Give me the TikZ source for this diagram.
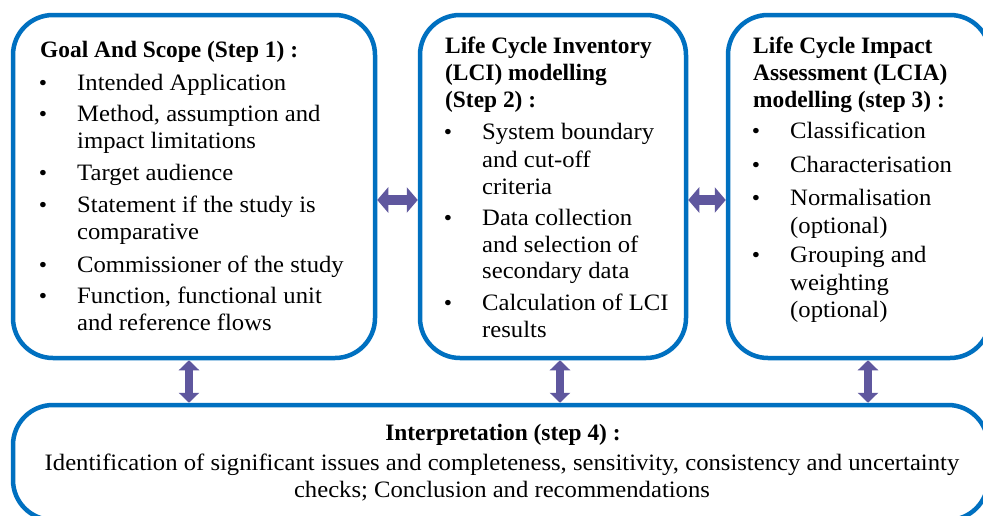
\documentclass[tikz,border=0pt]{standalone}
\usepackage{fontspec}
\setmainfont{Liberation Serif}[FakeStretch=1.05, BoldFeatures={FakeStretch=0.995}]
\usetikzlibrary{arrows.meta}
\definecolor{boxblue}{HTML}{0070C0}
\definecolor{arrpurple}{HTML}{5F579E}
\tikzset{
  stepbox/.style={draw=boxblue, line width=4.5pt, rounded corners=40pt, inner sep=0pt, minimum height=343pt},
  txt/.style={anchor=base west, inner sep=0pt, font=\fontsize{23.5}{28}\selectfont},
  ttl/.style={txt, font=\fontsize{23.5}{28}\selectfont\bfseries},
  bul/.style={anchor=base, inner sep=0pt, font=\fontsize{22.5}{27}\selectfont},
  ctxt/.style={anchor=base, inner sep=0pt, font=\fontsize{23.5}{28}\selectfont},
  hlink/.style={draw=arrpurple, line width=10pt, {Triangle[width=25pt,length=11pt]}-{Triangle[width=25pt,length=11pt]}},
  vlink/.style={draw=arrpurple, line width=8pt, {Triangle[width=20pt,length=10pt]}-{Triangle[width=20pt,length=10pt]}}
}
\begin{document}
\begin{tikzpicture}[x=1pt,y=-1pt]
\useasboundingbox (0,0) rectangle (983,515);
\clip (0,0) rectangle (983,515);
\fill[white] (0,0) rectangle (983,515);
% boxes
\node[stepbox, minimum width=362pt] (b1) at (194,186.5) {};
\node[stepbox, minimum width=266pt] (b2) at (553,186.5) {};
\node[stepbox, minimum width=262pt] (b3) at (859,186.5) {};
\node[stepbox, minimum width=975pt, minimum height=115pt] (b4) at (500.5,462.5) {};
% box 1 text
\node[ttl] (t1) at (40,57) {Goal And Scope (Step 1) :};
\node[bul] (u11) at (43,90) {•};  \node[txt] (a11) at (77,90) {Intended Application};
\node[bul] (u12) at (43,121) {•}; \node[txt] (a12) at (77,121) {Method, assumption and};
\node[txt] (a12b) at (77,148) {impact limitations};
\node[bul] (u13) at (43,180) {•}; \node[txt] (a13) at (77,180) {Target audience};
\node[bul] (u14) at (43,212) {•}; \node[txt] (a14) at (77,212) {Statement if the study is};
\node[txt] (a14b) at (77,239) {comparative};
\node[bul] (u15) at (43,272) {•}; \node[txt] (a15) at (77,272) {Commissioner of the study};
\node[bul] (u16) at (43,303) {•}; \node[txt] (a16) at (77,303) {Function, functional unit};
\node[txt] (a16b) at (77,330) {and reference flows};
% box 2 text
\node[ttl] (t2a) at (445,53) {Life Cycle Inventory};
\node[ttl] (t2b) at (445,80) {(LCI) modelling};
\node[ttl] (t2c) at (445,107) {(Step 2) :};
\node[bul] (u21) at (448,139) {•}; \node[txt] (a21) at (482,139) {System boundary};
\node[txt] (a21b) at (482,167) {and cut-off};
\node[txt] (a21c) at (482,194) {criteria};
\node[bul] (u22) at (448,225) {•}; \node[txt] (a22) at (482,225) {Data collection};
\node[txt] (a22b) at (482,252) {and selection of};
\node[txt] (a22c) at (482,278) {secondary data};
\node[bul] (u23) at (448,310) {•}; \node[txt] (a23) at (482,310) {Calculation of LCI};
\node[txt] (a23b) at (482,337) {results};
% box 3 text
\node[ttl] (t3a) at (753,53) {Life Cycle Impact};
\node[ttl] (t3b) at (753,80) {Assessment (LCIA)};
\node[ttl] (t3c) at (753,107) {modelling (step 3) :};
\node[bul] (u31) at (756,138) {•}; \node[txt] (a31) at (790,138) {Classification};
\node[bul] (u32) at (756,172) {•}; \node[txt] (a32) at (790,172) {Characterisation};
\node[bul] (u33) at (756,205) {•}; \node[txt] (a33) at (790,205) {Normalisation};
\node[txt] (a33b) at (790,233) {(optional)};
\node[bul] (u34) at (756,262) {•}; \node[txt] (a34) at (790,262) {Grouping and};
\node[txt] (a34b) at (790,290) {weighting};
\node[txt] (a34c) at (790,317) {(optional)};
% bottom text
\node[ctxt, font=\fontsize{23.5}{28}\selectfont\bfseries] (t4) at (503,440) {Interpretation (step 4) :};
\node[ctxt] (a41) at (502,470) {Identification of significant issues and completeness, sensitivity, consistency and uncertainty};
\node[ctxt] (a42) at (502,497) {checks; Conclusion and recommendations};
% connectors
\draw[hlink] (b1.east |- 0,200) -- (b2.west |- 0,200);
\draw[hlink] (b2.east |- 0,200) -- (b3.west |- 0,200);
\draw[vlink] (b1.south -| 189,0) -- (b4.north -| 189,0);
\draw[vlink] (b2.south -| 560,0) -- (b4.north -| 560,0);
\draw[vlink] (b3.south -| 868,0) -- (b4.north -| 868,0);
\end{tikzpicture}
\end{document}
